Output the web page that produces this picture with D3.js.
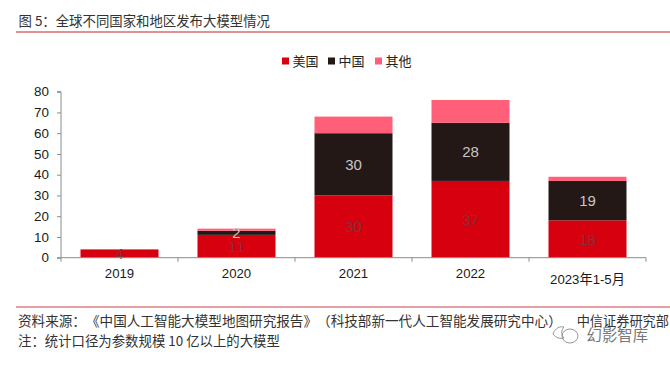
<!DOCTYPE html>
<html><head><meta charset="utf-8">
<script src="https://cdnjs.cloudflare.com/ajax/libs/d3/7.8.5/d3.min.js"></script>
<style>
html,body{margin:0;padding:0;background:#fff}
svg{display:block}
text{text-spacing-trim:space-all;font-kerning:none;font-feature-settings:"palt" 0,"kern" 0}
.cn{font-family:"Noto Sans CJK SC","Noto Sans",sans-serif}
.num{font-family:"Liberation Sans",Arial,sans-serif}
</style></head><body>
<svg id="c" width="670" height="365"></svg>
<script>
const categories = ["2019","2020","2021","2022","2023年1-5月"];
const seriesNames = ["美国","中国","其他"];
const usValues = [4,11,30,37,18];
const cnValues = [0,2,30,28,19];
const otherValues = [0,1,8,11,2];
const yTicks = [0,10,20,30,40,50,60,70,80];
const titleText = "图 5：全球不同国家和地区发布大模型情况";
const sourceLeft = "资料来源：《中国人工智能大模型地图研究报告》（科技部新一代人工智能发展研究中心）";
const sourceRight = "中信证券研究部";
const noteText = "注：统计口径为参数规模 10 亿以上的大模型";
const watermark = "幻影智库";
const colors = ["#d7000f","#231815","#ff5f78"];
const labelColors = ["#85303a","#c9c5c5"];

const svg = d3.select("#c");
const x = d3.scaleBand().domain(categories).range([61,646]).paddingInner(39/117).paddingOuter(39/234);
const y = d3.scaleLinear().domain([0,80]).range([257.7,91.7]);

const rows = categories.map((c,i)=>({cat:c,"美国":usValues[i],"中国":cnValues[i],"其他":otherValues[i]}));
const stacked = d3.stack().keys(seriesNames)(rows);

svg.append("g").selectAll("g").data(stacked).join("g")
  .attr("fill",(d,i)=>colors[i])
  .selectAll("rect").data(d=>d).join("rect")
  .attr("x",d=>x(d.data.cat))
  .attr("width",x.bandwidth())
  .attr("y",d=>y(d[1]))
  .attr("height",d=>y(d[0])-y(d[1]));

stacked.slice(0,2).forEach((s,si)=>{
  svg.append("g").selectAll("text").data(s.filter(d=>d[1]-d[0]>0)).join("text")
    .attr("class","num")
    .attr("x",d=>x(d.data.cat)+x.bandwidth()/2)
    .attr("y",d=>(y(d[0])+y(d[1]))/2+5.5)
    .attr("text-anchor","middle")
    .attr("font-size",15)
    .attr("fill",labelColors[si])
    .text(d=>d[1]-d[0]);
});

const ya = svg.append("g").attr("transform","translate(61,0)")
  .call(d3.axisLeft(y).tickValues(yTicks).tickSize(4).tickPadding(8));
ya.selectAll("path,line").attr("stroke","#8c8c8c").attr("stroke-width",1);
ya.select(".domain").attr("d","M-4,91.7H0V257.7H-4");
ya.selectAll("text").attr("class","num").attr("font-size",13.4).attr("fill","#1a1a1a");

const xa = svg.append("g").attr("transform","translate(0,257.7)");
xa.append("path").attr("d","M61,0H646").attr("stroke","#8c8c8c").attr("fill","none");
const step = x.step();
xa.selectAll("line").data(d3.range(categories.length+1)).join("line")
  .attr("x1",d=>61+d*step).attr("x2",d=>61+d*step)
  .attr("y1",0).attr("y2",4).attr("stroke","#8c8c8c");
xa.selectAll("text").data(categories).join("text")
  .attr("x",d=>x(d)+x.bandwidth()/2)
  .attr("y",(d,i)=>i===4?26:20.5)
  .attr("text-anchor","middle")
  .attr("font-size",13.2)
  .attr("fill","#1a1a1a")
  .attr("font-family",'"Liberation Sans","Noto Sans CJK SC",sans-serif')
  .text(d=>d);

const legendX = [282,328,375];
const lg = svg.append("g");
seriesNames.forEach((n,i)=>{
  lg.append("rect").attr("x",legendX[i]).attr("y",57.5).attr("width",7).attr("height",7).attr("fill",colors[i]);
  lg.append("text").attr("class","cn").attr("x",legendX[i]+10.5).attr("y",65.5)
    .attr("font-size",13).attr("fill","#222").text(n);
});

svg.append("text").attr("class","cn").attr("x",18.5).attr("y",26).attr("font-size",13.4).attr("fill","#333").text(titleText);
svg.append("line").attr("x1",16).attr("x2",670).attr("y1",32).attr("y2",32).attr("stroke","#c8232c").attr("stroke-width",1.2);
svg.append("line").attr("x1",16).attr("x2",670).attr("y1",307).attr("y2",307).attr("stroke","#c8444c").attr("stroke-width",1.2);

svg.append("text").attr("class","cn").attr("x",18).attr("y",325.5).attr("font-size",13.6).attr("fill","#333").text(sourceLeft);
svg.append("text").attr("class","cn").attr("x",576.7).attr("y",325.5).attr("font-size",13.2).attr("fill","#333").text(sourceRight);
svg.append("text").attr("class","cn").attr("x",18).attr("y",346).attr("font-size",13.4).attr("fill","#333").text(noteText);

const wm = svg.append("g").attr("fill","none").attr("stroke","#8a8a8a").attr("stroke-width",0.9);
wm.append("path").attr("d","M553,334c2,-6 7,-8 11,-7c-3,3 -3,8 0,11c-4,1 -8,0 -11,-4z");
wm.append("ellipse").attr("cx",570).attr("cy",336).attr("rx",8).attr("ry",7);
svg.append("text").attr("class","cn").attr("x",586.5).attr("y",341).attr("font-size",15.4).attr("fill","#777").text(watermark);
</script>
</body></html>
